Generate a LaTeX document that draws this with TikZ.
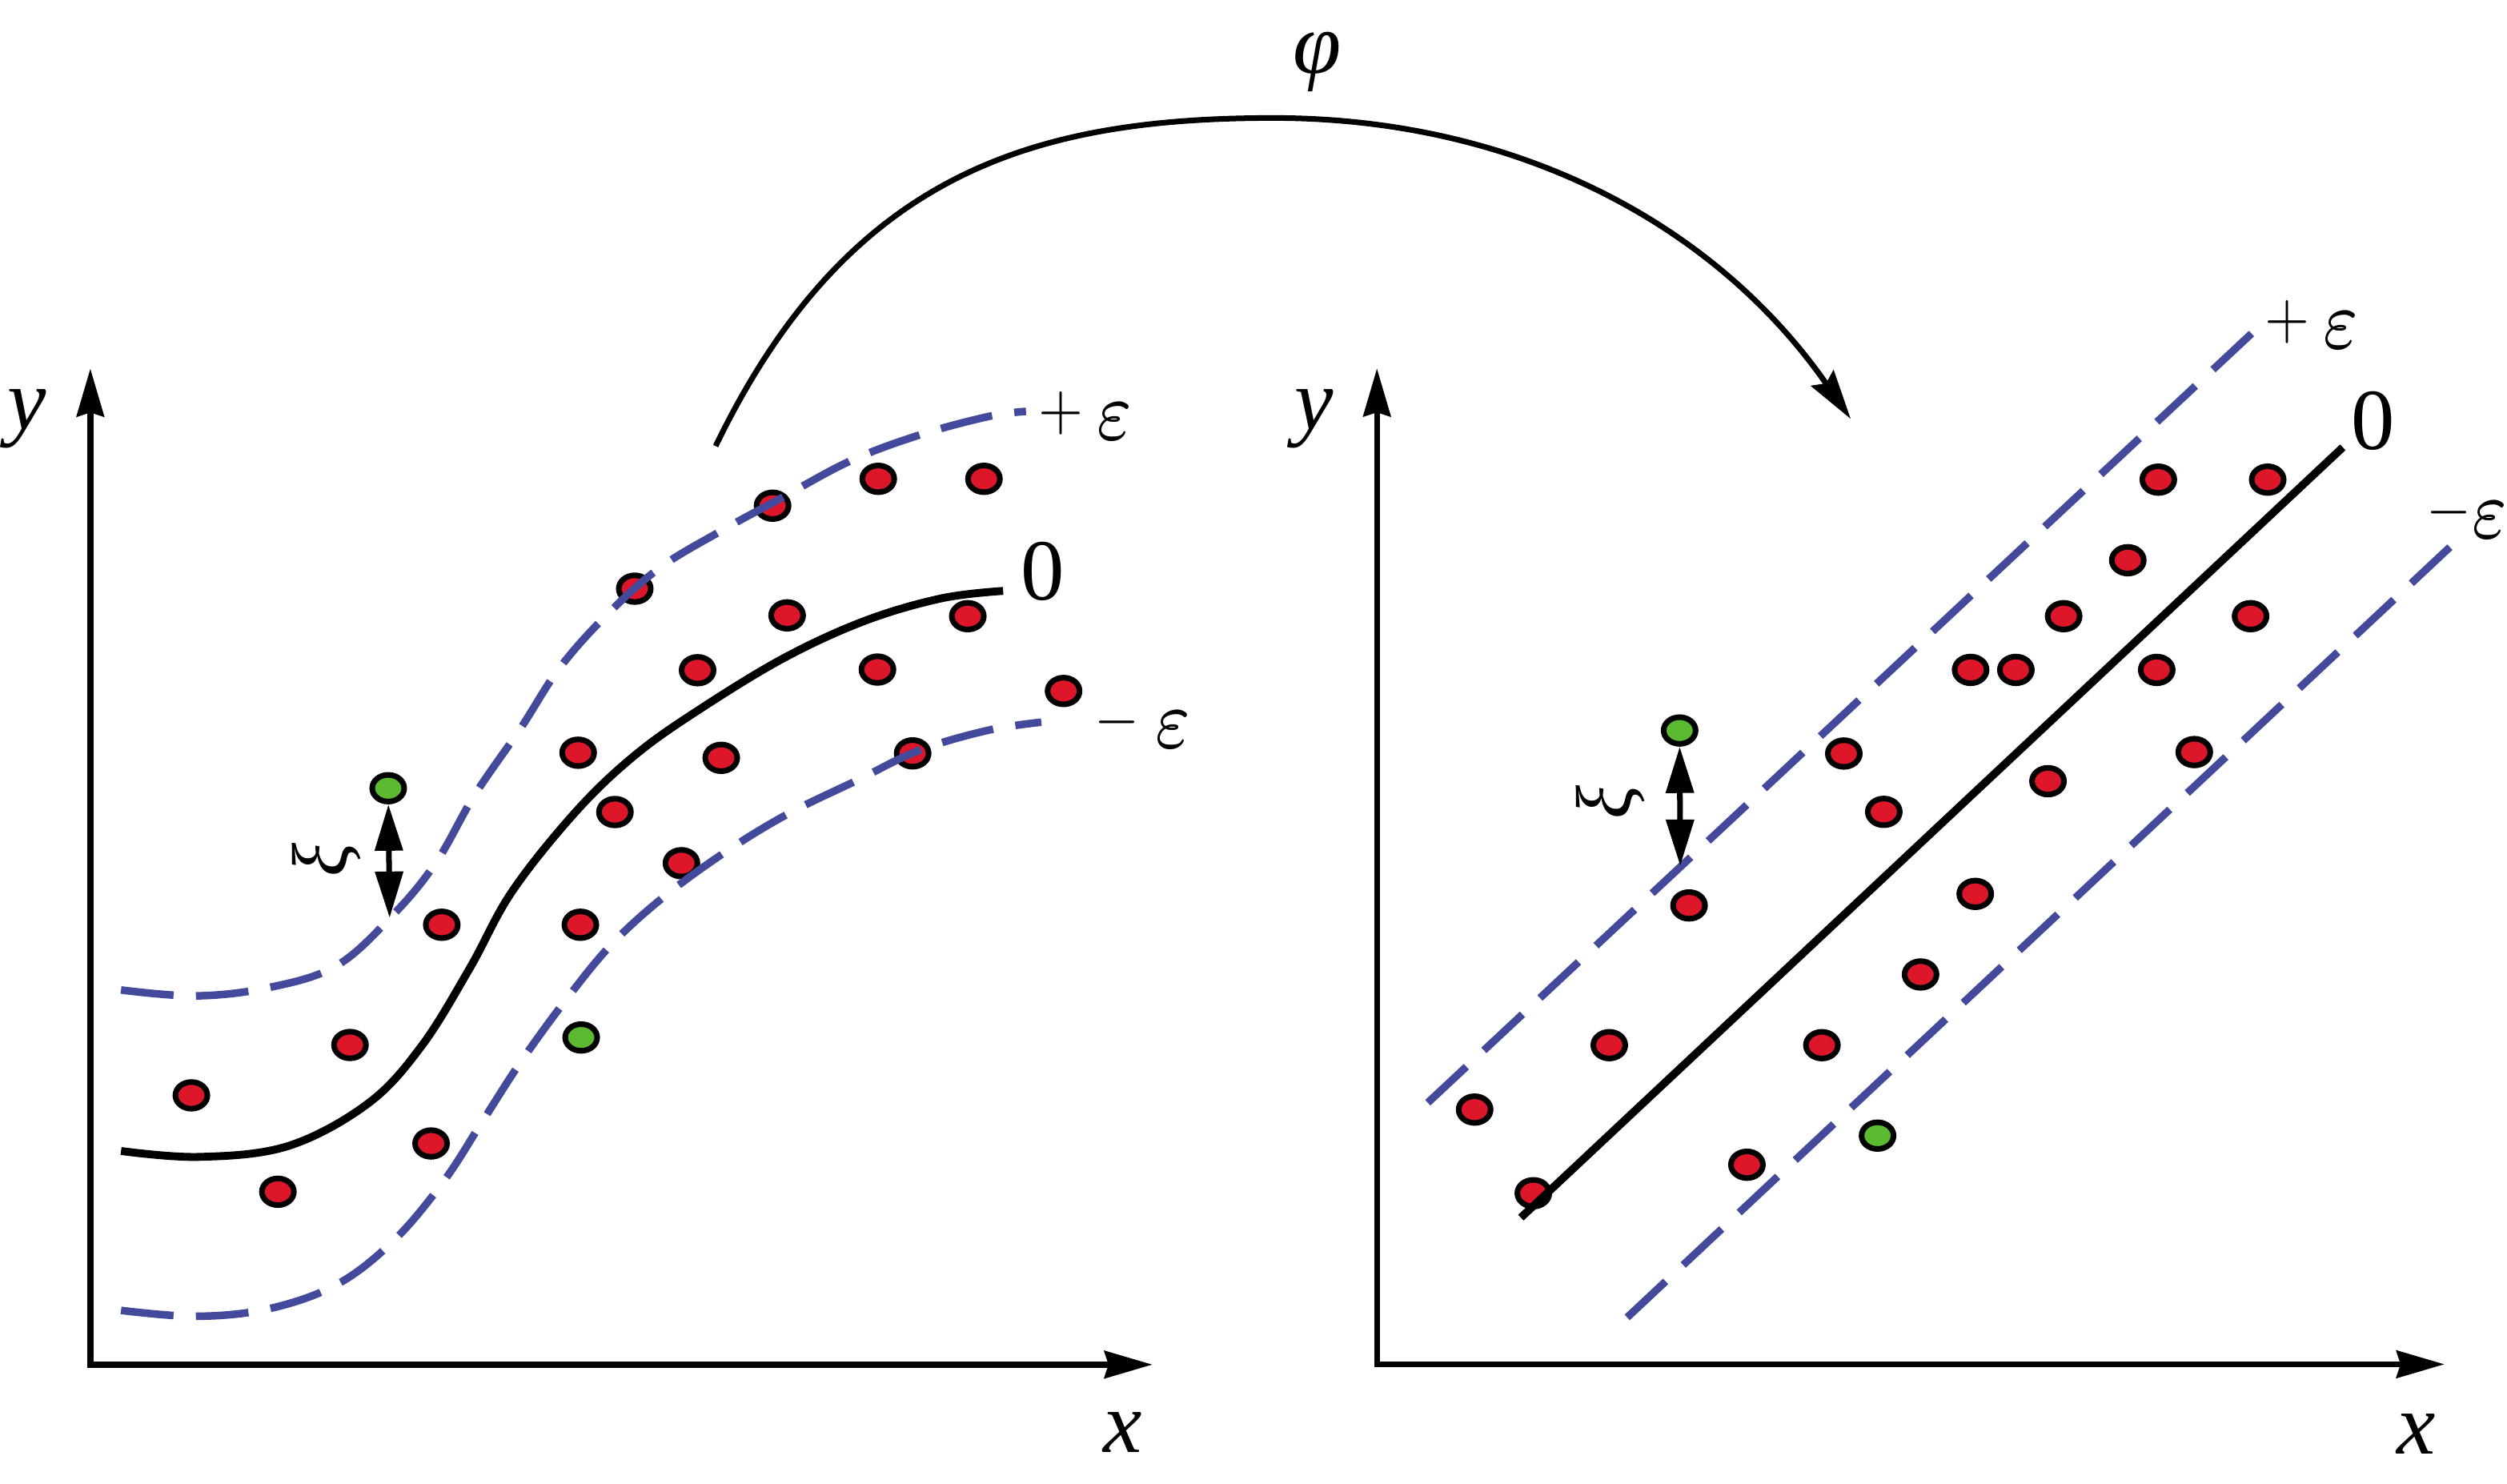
\documentclass[tikz,border=0pt]{standalone}
\usepackage[no-math]{fontspec}
\setmainfont{Liberation Serif}
\usepackage{graphicx}
\usetikzlibrary{arrows.meta,shapes.geometric}
\definecolor{dotred}{RGB}{221,22,42}
\definecolor{dotgreen}{RGB}{92,186,48}
\definecolor{epsblue}{RGB}{68,74,155}
\newcommand{\epsv}{\scalebox{3.45}[4.3]{\fontsize{7}{8}\selectfont$\varepsilon$}}
\newcommand{\plusv}{\raisebox{3.5pt}{\scalebox{2.05}[2.3]{$+$}}}
\newcommand{\minusv}{\raisebox{3.5pt}{\scalebox{2.05}[2.3]{$-$}}}
\begin{document}
\begin{tikzpicture}[x=0.02cm,y=-0.02cm,
  rdot/.style={ellipse, draw=black, line width=2pt, fill=dotred, minimum width=0.4cm, minimum height=0.334cm, inner sep=0pt},
  gdot/.style={rdot, fill=dotgreen},
  axisline/.style={line width=2.1pt, {Stealth[length=0.6cm,width=0.34cm,inset=0.05cm]}-{Stealth[length=0.6cm,width=0.34cm,inset=0.05cm]}},
  zeroline/.style={line width=2.8pt, line cap=butt},
  epsline/.style={line width=2.7pt, draw=epsblue, dash pattern=on 0.66cm off 0.28cm},
  epslineR/.style={line width=2.7pt, draw=epsblue, dash pattern=on 0.66cm off 0.30cm},
  xiarrow/.style={line width=2pt, {Triangle[length=0.58cm,width=0.34cm]}-{Triangle[length=0.58cm,width=0.34cm]}},
  phiarrow/.style={line width=2pt, -{Stealth[length=0.62cm,width=0.34cm,inset=0.08cm]}},
  lab/.style={inner sep=0pt, font=\fontsize{31}{36}\selectfont},
  eps/.style={inner sep=0pt, font=\fontsize{10}{12}\selectfont},
  xilab/.style={inner sep=0pt, font=\fontsize{28}{32}\selectfont, rotate=90},
]
\useasboundingbox (0,0) rectangle (1568,928);

% ---------------- left panel ----------------
\coordinate (oL) at (56.5,853.5);
\coordinate (yL) at (56.5,230.5);
\coordinate (xL) at (720.8,853.5);
\draw[axisline] (yL) -- (oL) -- (xL);
\node[lab] (ylabL) at (17,262) {\textit{y}};
\node[lab] (xlabL) at (702,896) {\textit{x}};

% dots
\node[rdot] (L1) at (119.7,685.1) {};
\node[rdot] (L2) at (173.8,745.4) {};
\node[rdot] (L3) at (218.9,653.6) {};
\node[rdot] (L4) at (269.6,715.2) {};
\node[rdot] (L5) at (276.3,578.4) {};
\node[rdot] (L6) at (363,578.4) {};
\node[rdot] (L7) at (384.6,507.9) {};
\node[rdot] (L8) at (361.6,470.8) {};
\node[rdot] (L9) at (426.2,539.9) {};
\node[rdot] (L10) at (451.1,474) {};
\node[rdot] (L11) at (436.3,419.2) {};
\node[rdot] (L12) at (397,368.2) {};
\node[rdot] (L13) at (492.3,384.9) {};
\node[rdot] (L14) at (483.2,316.3) {};
\node[rdot] (L15) at (549.3,299.5) {};
\node[rdot] (L16) at (615.4,299.5) {};
\node[rdot] (L17) at (548.8,418.8) {};
\node[rdot] (L18) at (605.3,385.4) {};
\node[rdot] (L19) at (570.8,471.2) {};
\node[rdot] (L20) at (665.2,432.2) {};
\node[gdot] (gL2) at (363.5,648.9) {};
\node[gdot] (gL) at (242.8,493) {};

% curves
\draw[epsline] plot[smooth, tension=0.6] coordinates {(75.7,619.2) (122.1,622.9) (167.6,617.8) (210.7,603.9) (246.6,571.4) (273,539) (296.9,497.2) (325.7,455.4) (349.6,418.3) (378.3,385.8) (411.9,355.7) (450.2,332.5) (488.5,311.6) (531.6,288.4) (574.7,272.2) (617.8,260.6) (641.7,257.3)};
\draw[zeroline] plot[smooth, tension=0.6] coordinates {(75.7,719.9) (124.5,723.6) (180.2,716.8) (230.3,690.1) (263.7,654.2) (293.7,605.8) (320.4,557.4) (360.5,507.3) (397.2,472.3) (437.2,443.9) (490.6,411.4) (541.2,388.2) (589,374.2) (627.4,369.6)};
\draw[epsline] plot[smooth, tension=0.6] coordinates {(75.7,819.6) (122.1,823.3) (167.6,818.7) (210.7,803.4) (246.6,775.6) (277.8,738.4) (301.7,701.4) (325.7,664.2) (354.4,624.8) (383.1,590) (416.6,559.8) (455,532) (493.3,508.8) (536.4,487.9) (574.7,469.4) (617.8,456.8) (651.3,451.7)};

\node[lab] (zeroL) at (652.3,357.5) {0};
\node[eps] (pepsL) at (679,260) {\plusv\hspace{4.7pt}\epsv};
\node[eps] (mepsL) at (715,453) {\minusv\hspace{5.4pt}\epsv};

\coordinate (xiL) at (243.7,574.1);
\draw[xiarrow] (gL) -- (xiL);
\node[xilab] (xitL) at (204,538) {\textit{ξ}};

% ---------------- phi arrow ----------------
\coordinate (phiS) at (447.6,279);
\coordinate (phiT) at (796.5,73.8);
\coordinate (phiE) at (1157.5,262);
\draw[phiarrow] (phiS) .. controls (530.3,108) and (646.5,73.8) .. (phiT)
  .. controls (946.5,73.8) and (1071.9,138.9) .. (phiE);
\node[lab] (phi) at (824,39) {\textit{φ}};

% ---------------- right panel ----------------
\coordinate (oR) at (861.2,853.3);
\coordinate (yR) at (861.2,230.4);
\coordinate (xR) at (1528.9,853.3);
\draw[axisline] (yR) -- (oR) -- (xR);
\node[lab] (ylabR) at (822,262) {\textit{y}};
\node[lab] (xlabR) at (1511,897) {\textit{x}};

\node[rdot] (R1) at (922.3,694.0) {};
\node[rdot] (R2) at (959,746.3) {};
\node[rdot] (R3) at (1006.5,653.7) {};
\node[rdot] (R4) at (1056.4,566.3) {};
\node[rdot] (R5) at (1153.2,471.3) {};
\node[rdot] (R6) at (1178.2,507.8) {};
\node[rdot] (R7) at (1232.5,419) {};
\node[rdot] (R8) at (1260.8,419) {};
\node[rdot] (R9) at (1290.7,385.4) {};
\node[rdot] (R10) at (1330.8,350.4) {};
\node[rdot] (R11) at (1349.9,300) {};
\node[rdot] (R12) at (1418.3,300) {};
\node[rdot] (R13) at (1348.9,419) {};
\node[rdot] (R14) at (1407.6,385.4) {};
\node[rdot] (R15) at (1372.4,470.4) {};
\node[rdot] (R16) at (1280.9,488.6) {};
\node[rdot] (R17) at (1235.4,559.1) {};
\node[rdot] (R18) at (1201.2,609.5) {};
\node[rdot] (R19) at (1139.5,653.7) {};
\node[rdot] (R20) at (1092.6,728.5) {};
\node[gdot] (gR2) at (1174.3,710.3) {};
\node[gdot] (gR) at (1050.5,456.9) {};

\coordinate (uRa) at (893,689.7);
\coordinate (uRb) at (1409,207.9);
\coordinate (zRa) at (951.2,761.6);
\coordinate (zRb) at (1465.3,279.8);
\coordinate (lRa) at (1017.7,824);
\coordinate (lRb) at (1532.3,342.2);
\draw[epslineR] (uRa) -- (uRb);
\draw[zeroline] (zRa) -- (zRb);
\draw[epslineR] (lRa) -- (lRb);

\node[lab] (zeroR) at (1484.4,263.5) {0};
\node[eps] (pepsR) at (1446,203) {\plusv\hspace{4.7pt}\epsv};
\node[eps] (mepsR) at (1543,322) {\minusv\hspace{0pt}\epsv};

\coordinate (xiR) at (1050.9,541.6);
\draw[xiarrow] (gR) -- (xiR);
\node[xilab] (xitR) at (1007,502) {\textit{ξ}};
\end{tikzpicture}
\end{document}
